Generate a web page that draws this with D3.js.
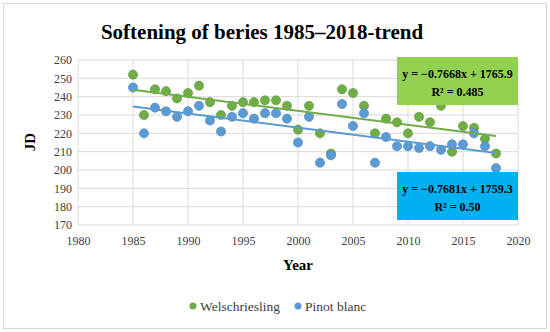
<!DOCTYPE html>
<html>
<head>
<meta charset="utf-8">
<script src="https://cdn.jsdelivr.net/npm/d3@7"></script>
<style>
  body { margin: 0; background: #fff; }
  svg text { font-family: "Liberation Serif", "DejaVu Serif", serif; }
</style>
</head>
<body>
<svg id="chart"></svg>
<script>
var years = d3.range(1985, 2019);
var welsch = [252, 230, 244, 243, 239, 242, 246, 237, 230, 235, 237, 237, 238, 238, 235, 222, 235,
              220, 209, 244, 242, 235, 220, 228, 226, 220, 229, 226, 235, 210, 224, 223, 217, 209];
var pinot  = [245, 220, 234, 232, 229, 232, 235, 227, 221, 229, 231, 228, 231, 231, 228, 215, 229,
              204, 208, 236, 224, 231, 204, 218, 213, 213, 212, 213, 211, 214, 214, 220, 213, 201];
var xTicks = [1980, 1985, 1990, 1995, 2000, 2005, 2010, 2015, 2020];
var yTicks = [170, 180, 190, 200, 210, 220, 230, 240, 250, 260];
// trend coefficients as printed on the chart
var trendW = { slope: -0.7668, icpt: 1765.9, eq: 'y = \u22120.7668x + 1765.9', r2: 'R\u00b2 = 0.485' };
var trendP = { slope: -0.7681, icpt: 1759.3, eq: 'y = \u22120.7681x + 1759.3', r2: 'R\u00b2 = 0.50' };

var width = 550, height = 332;
var green = '#70ad47', blue = '#5b9bd5';
var serif = '"Liberation Serif", serif';

var svg = d3.select('#chart')
  .attr('width', width)
  .attr('height', height)
  .attr('font-family', serif);

svg.append('rect')
  .attr('x', 3.5).attr('y', 3.5)
  .attr('width', width - 7).attr('height', height - 7)
  .attr('fill', '#fff')
  .attr('stroke', '#d9d9d9');

var x = d3.scaleLinear().domain([1980, 2020]).range([78, 518]);
var y = d3.scaleLinear().domain([170, 260]).range([225, 60]);

var grid = svg.append('g').attr('stroke', '#d9d9d9').attr('stroke-width', 1);
grid.selectAll('.gx').data(xTicks).enter().append('line')
  .attr('x1', d => x(d)).attr('x2', d => x(d))
  .attr('y1', y(170)).attr('y2', y(260));
grid.selectAll('.gy').data(yTicks).enter().append('line')
  .attr('x1', x(1980)).attr('x2', x(2020))
  .attr('y1', d => y(d)).attr('y2', d => y(d));

var xAxis = d3.axisBottom(x).tickValues(xTicks).tickFormat(d3.format('d')).tickSize(0).tickPadding(11);
var yAxis = d3.axisLeft(y).tickValues(yTicks).tickSize(0).tickPadding(6);

svg.append('g')
  .attr('transform', 'translate(0,' + y(170) + ')')
  .call(xAxis)
  .attr('font-family', serif)
  .attr('font-size', 12)
  .call(g => g.select('.domain').remove())
  .selectAll('text')
    .attr('fill', '#404040');
svg.append('g')
  .attr('transform', 'translate(' + x(1980) + ',0)')
  .call(yAxis)
  .attr('font-family', serif)
  .attr('font-size', 12)
  .call(g => g.select('.domain').remove())
  .selectAll('text')
    .attr('fill', '#404040');

svg.append('text')
  .attr('x', 262).attr('y', 39)
  .style('text-anchor', 'middle')
  .style('font-size', '21px')
  .style('font-weight', 'bold')
  .attr('fill', '#000')
  .text('Softening of beries 1985\u20132018-trend');

svg.append('text')
  .attr('x', 298).attr('y', 270)
  .style('text-anchor', 'middle')
  .style('font-size', '15px')
  .style('font-weight', 'bold')
  .text('Year');
svg.append('text')
  .attr('transform', 'translate(35,' + 142 + ') rotate(-90)')
  .style('text-anchor', 'middle')
  .style('font-size', '15px')
  .style('font-weight', 'bold')
  .text('JD');

function dots(vals, color) {
  svg.append('g').selectAll('circle')
    .data(vals)
    .enter()
    .append('circle')
      .attr('cx', (d, i) => x(years[i]))
      .attr('cy', d => y(d))
      .attr('r', 4.6)
      .attr('fill', color)
      .attr('stroke', d3.color(color).darker(0.4))
      .attr('stroke-width', 0.6);
}
dots(welsch, green);
dots(pinot, blue);

function trend(t, color) {
  var ends = [years[0], years[years.length - 1]];
  svg.append('path')
    .datum(ends)
    .attr('fill', 'none')
    .attr('stroke', color)
    .attr('stroke-width', 2)
    .attr('d', d3.line().x(d => x(d)).y(d => y(t.slope * d + t.icpt)));
}
trend(trendW, green);
trend(trendP, blue);

function label(t, fill, top) {
  var g = svg.append('g');
  g.append('rect')
    .attr('x', 397).attr('y', top)
    .attr('width', 121).attr('height', 48)
    .attr('fill', fill);
  g.append('text')
    .attr('x', 457.5).attr('y', top + 21)
    .style('text-anchor', 'middle')
    .style('font-size', '12px')
    .style('font-weight', 'bold')
    .text(t.eq);
  g.append('text')
    .attr('x', 457.5).attr('y', top + 39)
    .style('text-anchor', 'middle')
    .style('font-size', '12px')
    .style('font-weight', 'bold')
    .text(t.r2);
}
label(trendW, '#92d050', 57);
label(trendP, '#00b0f0', 172);

var legend = [['Welschriesling', green, 193], ['Pinot blanc', blue, 298]];
var lg = svg.append('g');
lg.selectAll('circle').data(legend).enter().append('circle')
  .attr('cx', d => d[2]).attr('cy', 306).attr('r', 3.5)
  .attr('fill', d => d[1]);
lg.selectAll('text').data(legend).enter().append('text')
  .attr('x', d => d[2] + 7).attr('y', 310.5)
  .style('font-size', '13.5px')
  .attr('fill', '#404040')
  .text(d => d[0]);
</script>
</body>
</html>
